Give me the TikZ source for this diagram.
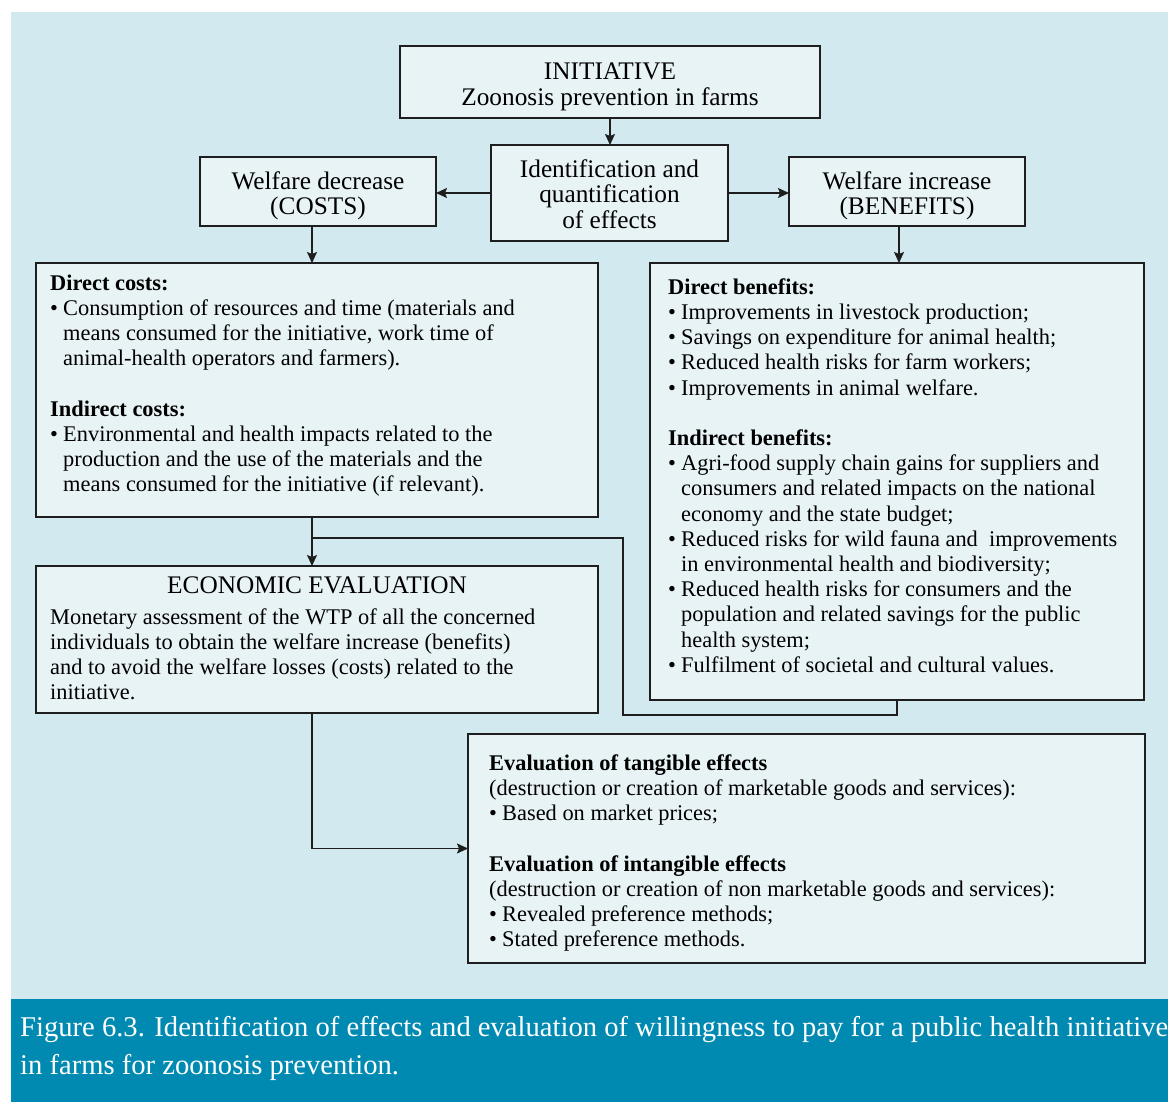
\documentclass[tikz,border=0pt]{standalone}
\usepackage{fontspec}
\setmainfont{Liberation Serif}
\usetikzlibrary{arrows.meta}

\definecolor{bgc}{HTML}{D3E9F0}
\definecolor{boxc}{HTML}{E8F3F6}
\definecolor{capc}{HTML}{008AB2}
\definecolor{linec}{HTML}{1E1E1E}

\newcommand\bodyfont{\fontsize{22.4}{25.2}\selectfont}
\newcommand\headfont{\fontsize{25.3}{25.5}\selectfont}
\newcommand\capfont{\fontsize{28.6}{38.5}\selectfont}
\newcommand\fstrut{\rule{0pt}{16pt}}
\newcommand\cstrut{\rule{0pt}{20pt}}
\newcommand\hstrut{\rule{0pt}{23pt}}
\newcommand\hstrutb{\rule{0pt}{26pt}}
\newcommand\dstrut{\rule[-3.5pt]{0pt}{0pt}}
\newcommand\bul{\makebox[13pt][l]{\textbullet}}
\newcommand\ind{\hspace*{13pt}}

\begin{document}
\begin{tikzpicture}[x=1pt,y=-1pt,
  box/.style={draw=linec, fill=boxc, line width=1.4pt, rectangle,
    inner sep=0pt, outer sep=0pt, anchor=north west},
  headbox/.style={box, align=center, font=\headfont},
  txt/.style={anchor=north west, inner sep=0pt, align=left, font=\bodyfont},
  link/.style={draw=linec, line width=1.4pt},
  arr/.style={link, -{Stealth[length=11pt,width=10pt,inset=2pt]}}]

\useasboundingbox (0,0) rectangle (1168,1102);
\fill[white] (0,0) rectangle (1168,1102);
\fill[bgc] (11,12) rectangle (1168,999);
\fill[capc] (11,999) rectangle (1168,1102);

% top row
\node[headbox, minimum width=420, minimum height=72] (init) at (400,46)
  {\hstrutb INITIATIVE\\Zoonosis prevention in farms\dstrut};
\node[headbox, minimum width=237, minimum height=96] (ident) at (491,145)
  {\hstrut Identification and\\quantification\\of effects\dstrut};
\node[headbox, minimum width=236, minimum height=69] (wdec) at (200,157)
  {\hstrutb Welfare decrease\\(COSTS)\dstrut};
\node[headbox, minimum width=236, minimum height=69] (winc) at (789,157)
  {\hstrutb Welfare increase\\(BENEFITS)\dstrut};

% costs
\node[box, minimum width=562, minimum height=254] (costs) at (36,263) {};
\node[txt] (costsT) at (50,274) {\fstrut\textbf{Direct costs:}\\
\bul Consumption of resources and time (materials and\\
\ind means consumed for the initiative, work time of\\
\ind animal-health operators and farmers).\\[25.2pt]
\textbf{Indirect costs:}\\
\bul Environmental and health impacts related to the\\
\ind production and the use of the materials and the\\
\ind means consumed for the initiative (if relevant).};

% benefits
\node[box, minimum width=494, minimum height=437] (benef) at (650,263) {};
\node[txt] (benefT) at (668,278) {\fstrut\textbf{Direct benefits:}\\
\bul Improvements in livestock production;\\
\bul Savings on expenditure for animal health;\\
\bul Reduced health risks for farm workers;\\
\bul Improvements in animal welfare.\\[25.2pt]
\textbf{Indirect benefits:}\\
\bul Agri-food supply chain gains for suppliers and\\
\ind consumers and related impacts on the national\\
\ind economy and the state budget;\\
\bul Reduced risks for wild fauna and\ \ improvements\\
\ind in environmental health and biodiversity;\\
\bul Reduced health risks for consumers and the\\
\ind population and related savings for the public\\
\ind health system;\\
\bul Fulfilment of societal and cultural values.};

% economic evaluation
\node[box, minimum width=562, minimum height=147] (econ) at (36,566) {};
\node[font=\headfont, inner sep=0pt] (econH) at (317,585) {ECONOMIC EVALUATION};
\node[txt] (econT) at (50,608) {\fstrut Monetary assessment of the WTP of all the concerned\\
individuals to obtain the welfare increase (benefits)\\
and to avoid the welfare losses (costs) related to the\\
initiative.};

% evaluation methods
\node[box, minimum width=677, minimum height=229] (evalb) at (468,734) {};
\node[txt] (evalT) at (489,754) {\fstrut\textbf{Evaluation of tangible effects}\\
(destruction or creation of marketable goods and services):\\
\bul Based on market prices;\\[25.2pt]
\textbf{Evaluation of intangible effects}\\
(destruction or creation of non marketable goods and services):\\
\bul Revealed preference methods;\\
\bul Stated preference methods.};

% caption
\node[anchor=north west, inner sep=0pt, align=left, font=\capfont, text=white]
  (cap) at (20,1016) {\cstrut Figure 6.3. Identification of effects and evaluation of willingness to pay for a public health initiative\\
in farms for zoonosis prevention.};

% connectors
\draw[arr] (init.south) -- (init.south |- ident.north);
\draw[arr] (ident.west) -- (ident.west -| wdec.east);
\draw[arr] (ident.east) -- (ident.east -| winc.west);
\coordinate (cx) at ([xshift=-6pt]wdec.south);
\draw[arr] (cx) -- (cx |- costs.north);
\coordinate (bx) at ([xshift=-8pt]winc.south);
\draw[arr] (bx) -- (bx |- benef.north);
\coordinate (ex) at (cx |- costs.south);
\draw[arr] (ex) -- (ex |- econ.north);
\coordinate (join) at (312,538);
\coordinate (loop) at (623,715);
\draw[link] (benef.south) |- (loop) |- (join);
\draw[arr] (ex |- econ.south) |- (evalb.west);
\end{tikzpicture}
\end{document}
